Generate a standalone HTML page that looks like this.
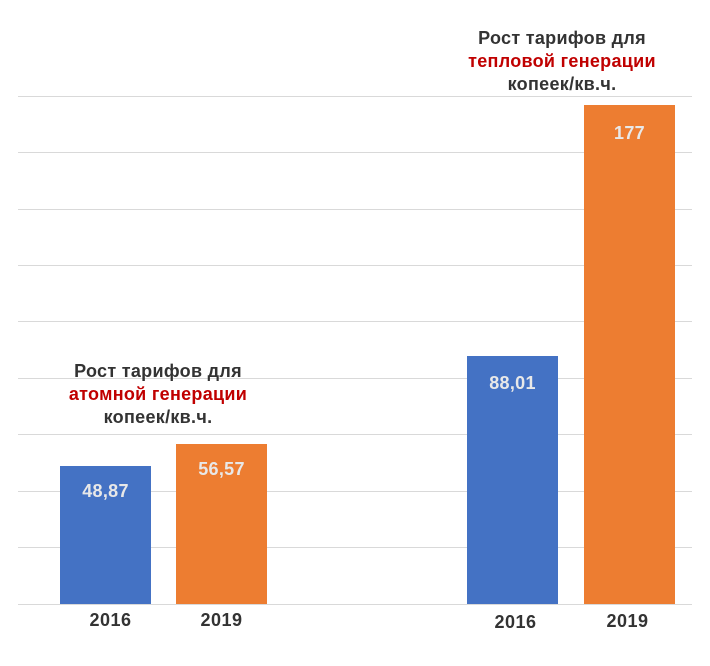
<!DOCTYPE html>
<html><head><meta charset="utf-8"><style>
body{margin:0;width:710px;height:666px;background:#fff;position:relative;overflow:hidden;font-family:"Liberation Sans","DejaVu Sans",sans-serif;}
.g{position:absolute;left:18px;width:674px;height:1px;background:#d9d9d9;}
.b{position:absolute;width:91px;}
.v{position:absolute;width:91px;text-align:center;color:#e8e8e8;font-weight:bold;font-size:18px;letter-spacing:0.3px;}
.y{position:absolute;width:91px;text-align:center;color:#333;font-weight:bold;font-size:18px;letter-spacing:0.5px;top:610px;}
.t{position:absolute;text-align:center;font-weight:bold;font-size:18px;letter-spacing:0.3px;line-height:23px;color:#333;width:260px;}
.r{color:#c00000;}
</style></head><body>
<div class="g" style="top:96px"></div><div class="g" style="top:152px"></div><div class="g" style="top:209px"></div><div class="g" style="top:265px"></div><div class="g" style="top:321px"></div><div class="g" style="top:378px"></div><div class="g" style="top:434px"></div><div class="g" style="top:491px"></div><div class="g" style="top:547px"></div><div class="g" style="top:604px"></div>
<div class="b" style="left:60px;top:466px;height:138px;background:#4472c4"></div>
<div class="b" style="left:176px;top:444px;height:160px;background:#ed7d31"></div>
<div class="b" style="left:467px;top:356px;height:248px;background:#4472c4"></div>
<div class="b" style="left:584px;top:105px;height:499px;background:#ed7d31"></div>
<div class="v" style="left:60px;top:481px">48,87</div>
<div class="v" style="left:176px;top:459px">56,57</div>
<div class="v" style="left:467px;top:373px">88,01</div>
<div class="v" style="left:584px;top:123px">177</div>
<div class="y" style="left:65px">2016</div><div class="y" style="left:176px">2019</div>
<div class="y" style="left:470px;top:612px">2016</div><div class="y" style="left:582px;top:611px">2019</div>
<div class="t" style="left:28px;top:360px">Рост тарифов для<br><span class="r">атомной генерации</span><br>копеек/кв.ч.</div>
<div class="t" style="left:432px;top:27px">Рост тарифов для<br><span class="r">тепловой генерации</span><br>копеек/кв.ч.</div>
</body></html>
